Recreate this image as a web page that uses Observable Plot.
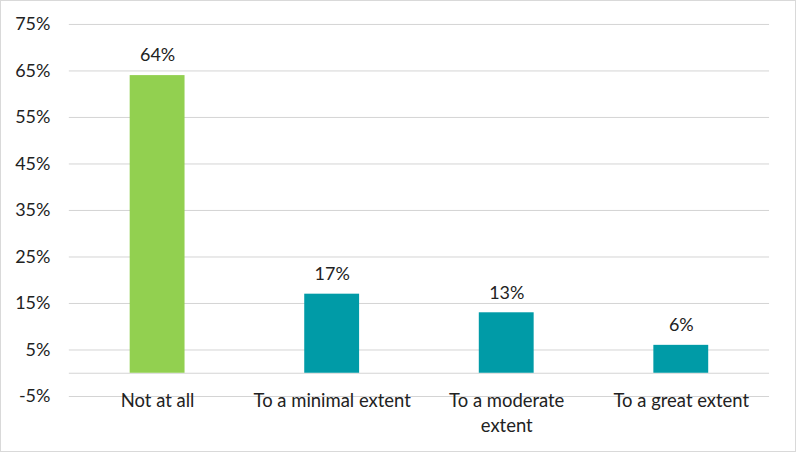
<!DOCTYPE html>
<html>
<head>
<meta charset="utf-8">
<script src="https://cdn.jsdelivr.net/npm/d3@7"></script>
<script src="https://cdn.jsdelivr.net/npm/@observablehq/plot@0.6"></script>
<style>
  html, body { margin: 0; padding: 0; background: #fff; }
  #chart { width: 796px; height: 452px; box-sizing: border-box; border: 1px solid #d9d9d9; overflow: hidden; position: relative; }
  #chart svg { position: absolute; left: -1px; top: -1px; }
</style>
</head>
<body>
<div id="chart"></div>
<script>
const categories = ["Not at all", "To a minimal extent", "To a moderate extent", "To a great extent"];
const axisLabels = ["Not at all", "To a minimal extent", "To a moderate\nextent", "To a great extent"];
const values = [64, 17, 13, 6];
const barColors = ["#92D050", "#009BA7", "#009BA7", "#009BA7"];
const yTicks = [-5, 5, 15, 25, 35, 45, 55, 65, 75];

const data = categories.map((c, i) => ({cat: c, label: axisLabels[i], value: values[i], color: barColors[i]}));

const chart = Plot.plot({
  width: 796,
  height: 452,
  marginLeft: 69,
  marginRight: 25,
  marginTop: 24,
  marginBottom: 55,
  style: {fontFamily: "Lato, sans-serif", fontSize: "18px", color: "#222", background: "transparent"},
  x: {domain: categories, paddingInner: 0.687, paddingOuter: 0.3435, label: null, axis: null},
  y: {domain: [-5, 75], label: null, axis: null},
  marks: [
    Plot.ruleY(yTicks, {stroke: "#d4d4d4", strokeWidth: 1}),
    Plot.ruleY([0], {stroke: "#d4d4d4", strokeWidth: 1}),
    Plot.axisY(yTicks, {tickSize: 0, tickPadding: 19, tickFormat: d => d + "%", fontSize: 18, fill: "#222", label: null}),
    Plot.barY(data, {x: "cat", y: "value", fill: "color"}),
    Plot.text(data, {x: "cat", y: "value", text: d => d.value + "%", dy: -20, fontSize: 18, fill: "#222"}),
    Plot.text(data, {x: "cat", y: -5, text: "label", lineAnchor: "top", dy: -7, lineHeight: 1.35, fontSize: 18.5, fill: "#222"})
  ]
});
document.getElementById("chart").appendChild(chart);
</script>
</body>
</html>
